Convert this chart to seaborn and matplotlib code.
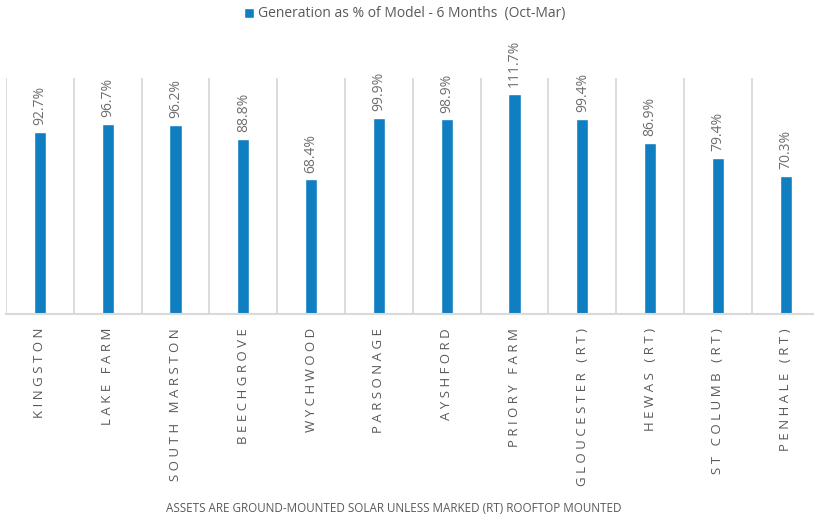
import numpy as np
import pandas as pd
import matplotlib
matplotlib.use("Agg")
import matplotlib.pyplot as plt
import seaborn as sns

# generation vs model, 6 months Oct-Mar
sites = ["KINGSTON", "LAKE FARM", "SOUTH MARSTON", "BEECHGROVE", "WYCHWOOD",
         "PARSONAGE", "AYSHFORD", "PRIORY FARM", "GLOUCESTER (RT)", "HEWAS (RT)",
         "ST COLUMB (RT)", "PENHALE (RT)"]
pct_of_model = [92.7, 96.7, 96.2, 88.8, 68.4, 99.9, 98.9, 111.7, 99.4, 86.9, 79.4, 70.3]
series_name = "Generation as % of Model - 6 Months  (Oct-Mar)"
footnote = "ASSETS ARE GROUND-MOUNTED SOLAR UNLESS MARKED (RT) ROOFTOP MOUNTED"

df = pd.DataFrame({"site": sites, "pct": pct_of_model})

sns.set_theme(style="white")
plt.rcParams["font.family"] = ["Open Sans", "DejaVu Sans"]

bar_col = "#0F7FC1"
grey_txt = "#595959"
grid_col = "#D9D9D9"

fig = plt.figure(figsize=(8.14, 5.16), dpi=100)
ax = fig.add_axes([6 / 814, 1 - 314 / 516, 813.6 / 814, (314 - 78) / 516])

sns.barplot(data=df, x="site", y="pct", color=bar_col, width=0.18,
            saturation=1, label=series_name, ax=ax)

ax.set_xlim(-0.5, len(sites) - 0.5)
ax.set_ylim(0, 120)
ax.set_xlabel("")
ax.set_ylabel("")
ax.set_yticks([])

# vertical separators between categories
ax.set_xticks(np.arange(-0.5, len(sites), 1.0), minor=True)
ax.grid(True, axis="x", which="minor", color=grid_col, lw=1.3)
ax.grid(False, axis="x", which="major")
ax.tick_params(axis="x", which="both", length=0, pad=10)

# letter-spaced category labels
ax.set_xticks(range(len(sites)))
ax.set_xticklabels([" ".join(s) for s in sites], rotation=90,
                   color=grey_txt, fontsize=9.5)

for sp in ["top", "right", "left"]:
    ax.spines[sp].set_visible(False)
ax.spines["bottom"].set_color(grid_col)
ax.spines["bottom"].set_linewidth(1.5)

ax.bar_label(ax.containers[0], fmt="%.1f%%", rotation=90, padding=5,
             color="#6E6E6E", fontsize=10)

ax.legend(loc="center", bbox_to_anchor=(405 / 814, 1 - 14 / 516),
          bbox_transform=fig.transFigure, frameon=False, fontsize=10,
          handlelength=0.7, handleheight=0.7, handletextpad=0.3,
          labelcolor=grey_txt)

fig.text(394 / 814, 1 - 509 / 516, footnote, ha="center", va="center",
         fontsize=8.4, color=grey_txt)

fig.savefig("out.png", dpi=100)
